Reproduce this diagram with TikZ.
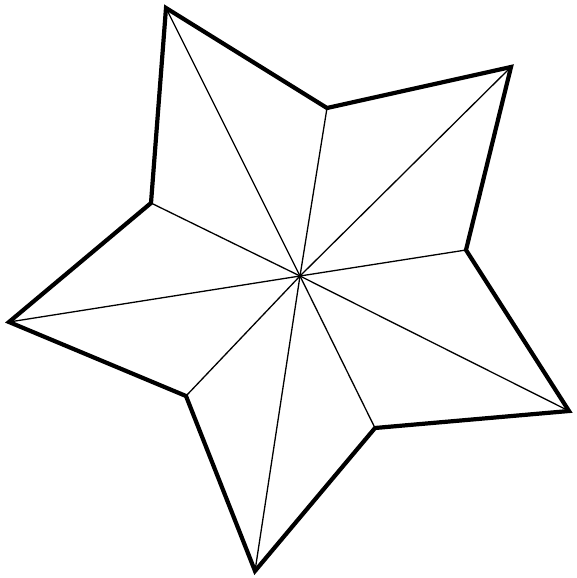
\documentclass[tikz,border=0pt]{standalone}
\begin{document}
\begin{tikzpicture}[x=1pt,y=-1pt,
  outline/.style={line width=4.2pt,line join=miter,miter limit=10},
  rib/.style={line width=1.3pt}]
\useasboundingbox (0,0) rectangle (576,578);
\coordinate (c) at (300,276);
\coordinate (t1) at (166,8);
\coordinate (i1) at (327,108);
\coordinate (t2) at (511,67);
\coordinate (i2) at (466,250);
\coordinate (t3) at (569,411);
\coordinate (i3) at (375,428);
\coordinate (t4) at (255,571);
\coordinate (i4) at (186,396);
\coordinate (t5) at (9,322);
\coordinate (i5) at (151,203);
\foreach \p in {t1,i1,t2,i2,t3,i3,t4,i4,t5,i5}
  \draw[rib] (c) -- (\p);
\draw[outline] (t1) -- (i1) -- (t2) -- (i2) -- (t3) -- (i3) -- (t4) -- (i4) -- (t5) -- (i5) -- cycle;
\end{tikzpicture}
\end{document}
